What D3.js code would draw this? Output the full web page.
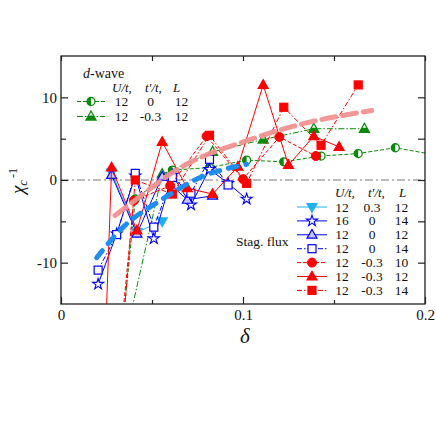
<!DOCTYPE html>
<html>
<head>
<meta charset="utf-8">
<script src="https://cdn.jsdelivr.net/npm/d3@7"></script>
<style>
  body { margin: 0; background: #fff; }
  svg text { font-family: "Liberation Serif", "Times New Roman", Times, "DejaVu Serif", serif; fill: #111; }
</style>
</head>
<body>
<div class="canvas"></div>
<script>
// tick labels
const xTickValues = [0, 0.1, 0.2];
const xTickLabels = ['0', '0.1', '0.2'];
const xMinorTicks = [0.05, 0.15];
const yTickValues = [-10, 0, 10];
const yTickLabels = ['-10', '0', '10'];
const yMinorTicks = [-5, 5];

// d-wave series  [delta, chi^-1]
const dwaveT0 = [[0.0204,-48],[0.0408,-2.3],[0.0612,1.2],[0.0816,1.5],[0.102,2.4],[0.1224,2.2],[0.1429,2.9],[0.1633,3.2],[0.1837,3.9],[0.204,3.1]];
const dwaveT03 = [[0.0278,-26.5],[0.0556,0.7],[0.0833,3.4],[0.1111,4.9],[0.1389,6.2],[0.1667,6.2]];

// staggered flux series
const fluxU12T03L12 = [[0.0278,0.9],[0.0417,-6.3],[0.0556,-5.0]];
const fluxU16T0L14 = [[0.0204,-12.6],[0.0306,-6.5],[0.0408,0.5],[0.051,-7.1],[0.0612,0.6],[0.0714,-3.0],[0.0816,1.3],[0.0918,-0.4],[0.102,-2.3]];
const fluxU12T0L12 = [[0.0278,0.6],[0.0417,-6.5],[0.0556,0.4],[0.0694,-2.4],[0.0833,-1.9]];
const fluxU12T0L14 = [[0.0204,-10.9],[0.0306,-6.6],[0.0408,0.8],[0.051,-5.7],[0.0612,0.3],[0.0714,-1.6],[0.0816,2.5],[0.0918,-0.6]];
const fluxU12Tm03L10 = [[0.02,-48],[0.04,-2.5],[0.06,-0.7],[0.08,5.3],[0.10,0.1],[0.12,5.2],[0.14,2.9]];
const fluxU12Tm03L12 = [[0.0139,-83],[0.0278,1.5],[0.0417,-6.1],[0.0556,4.6],[0.0694,-1.0],[0.0833,-1.7],[0.0972,1.6],[0.1111,11.5],[0.125,1.8],[0.1389,5.3],[0.1528,4.0]];
const fluxU12Tm03L14 = [[0.0306,-27],[0.0408,0.0],[0.0612,-1.7],[0.0816,5.4],[0.102,-0.4],[0.1224,8.8],[0.1429,4.2],[0.1633,11.5]];

// thick guide curves
const pinkGuide = [[0.0297,-4.3],[0.0452,-1.7],[0.0626,1.1],[0.0764,2.7],[0.0947,4.2],[0.131,6.7],[0.1707,8.4]];
const blueGuide = [[0.0196,-9.4],[0.0342,-5.7],[0.0544,-2.5],[0.0764,0.3],[0.102,1.9]];

// legend rows
const dwaveRows = [['12','0','12'], ['12','-0.3','12']];
const fluxRows = [['12','0.3','12'],['16','0','14'],['12','0','12'],['12','0','14'],['12','-0.3','10'],['12','-0.3','12'],['12','-0.3','14']];

const SERIF = '"Liberation Serif", "Times New Roman", Times, serif';
const GREEN = '#0a8a0a', BLUE = '#0000ff', RED = '#ff0000', CYAN = '#20b0f0';

const dwaveSeries = [
  {data: dwaveT0, color: GREEN, dash: '4,2', marker: 'halfcircle'},
  {data: dwaveT03, color: GREEN, dash: '6,2,1.5,2', marker: 'halftriangle'}
];
const fluxSeries = [
  {data: fluxU12T03L12, color: CYAN, dash: null, marker: 'downtriangle', fill: CYAN},
  {data: fluxU16T0L14, color: BLUE, dash: null, marker: 'star', fill: '#fff'},
  {data: fluxU12T0L12, color: BLUE, dash: null, marker: 'triangle', fill: '#c4c4ff'},
  {data: fluxU12T0L14, color: BLUE, dash: '5,2,1.5,2', marker: 'square', fill: '#fff'},
  {data: fluxU12Tm03L10, color: RED, dash: '4,2', marker: 'circle', fill: RED},
  {data: fluxU12Tm03L12, color: RED, dash: null, marker: 'triangle', fill: RED},
  {data: fluxU12Tm03L14, color: RED, dash: '5,2,1.5,2', marker: 'square', fill: RED}
];

const svg = d3.select('.canvas')
  .append('svg')
    .attr('width', 436)
    .attr('height', 440)
    .attr('font-family', SERIF);

const margin = {top: 56, left: 61};
const graphWidth = 364;
const graphHeight = 248;

const graph = svg.append('g')
  .attr('transform', `translate(${margin.left}, ${margin.top})`);

const x = d3.scaleLinear().domain([0, 0.2]).range([0, graphWidth]);
const y = d3.scaleLinear().domain([-15, 15]).range([graphHeight, 0]);

svg.append('defs').append('clipPath').attr('id', 'plotclip')
  .append('rect').attr('width', graphWidth).attr('height', graphHeight);

// zero line
graph.append('line')
  .attr('x1', 0).attr('x2', graphWidth)
  .attr('y1', y(0)).attr('y2', y(0))
  .attr('stroke', '#777').attr('stroke-width', 1)
  .attr('stroke-dasharray', '8,3,2,3');

// marker drawing
function drawMarker(g, type, color, fill) {
  if (type === 'halfcircle') {
    g.append('circle').attr('r', 4).attr('fill', '#fff').attr('stroke', color).attr('stroke-width', 1.3);
    g.append('path').attr('d', d3.arc()({innerRadius: 0, outerRadius: 4, startAngle: Math.PI, endAngle: 2 * Math.PI}))
      .attr('fill', color);
  } else if (type === 'halftriangle') {
    g.append('path').attr('d', 'M0,-5.5L5,3.5L-5,3.5Z').attr('fill', '#fff').attr('stroke', color).attr('stroke-width', 1.3);
    g.append('path').attr('d', 'M-2.5,-1L2.5,-1L5,3.5L-5,3.5Z').attr('fill', color);
  } else if (type === 'triangle') {
    g.append('path').attr('d', 'M0,-5.3L5,3.4L-5,3.4Z').attr('fill', fill).attr('stroke', color).attr('stroke-width', 1.2);
  } else if (type === 'downtriangle') {
    g.append('path').attr('d', 'M0,5.3L5,-3.4L-5,-3.4Z').attr('fill', fill).attr('stroke', color).attr('stroke-width', 1.2);
  } else if (type === 'square') {
    g.append('rect').attr('x', -4).attr('y', -4).attr('width', 8).attr('height', 8)
      .attr('fill', fill).attr('stroke', color).attr('stroke-width', 1.2);
  } else if (type === 'circle') {
    g.append('circle').attr('r', 4.5).attr('fill', fill).attr('stroke', color).attr('stroke-width', 1);
  } else if (type === 'star') {
    g.append('path').attr('d', d3.symbol(d3.symbolStar, 38)()).attr('fill', fill)
      .attr('stroke', color).attr('stroke-width', 1.1);
  }
}

const line = d3.line().x(d => x(d[0])).y(d => y(d[1]));
const plot = graph.append('g').attr('clip-path', 'url(#plotclip)');

function drawSeries(s) {
  plot.append('path')
    .attr('d', line(s.data))
    .attr('fill', 'none')
    .attr('stroke', s.color)
    .attr('stroke-width', 1)
    .attr('stroke-dasharray', s.dash);
  plot.selectAll(null)
    .data(s.data.filter(d => d[1] > -15 && d[1] < 15 && d[0] <= 0.2))
    .enter()
    .append('g')
      .attr('transform', d => `translate(${x(d[0])}, ${y(d[1])})`)
      .each(function() { drawMarker(d3.select(this), s.marker, s.color, s.fill); });
}

dwaveSeries.forEach(drawSeries);
fluxSeries.forEach(drawSeries);

// thick guide curves
const smooth = d3.line().x(d => x(d[0])).y(d => y(d[1])).curve(d3.curveMonotoneX);
plot.append('path').attr('d', smooth(pinkGuide))
  .attr('fill', 'none').attr('stroke', '#f29191').attr('stroke-width', 5)
  .attr('stroke-dasharray', '14,7').attr('stroke-linecap', 'round').attr('opacity', 0.95);
plot.append('path').attr('d', smooth(blueGuide))
  .attr('fill', 'none').attr('stroke', '#1e8ff0').attr('stroke-width', 5)
  .attr('stroke-dasharray', '9,9').attr('stroke-linecap', 'round');

// frame
graph.append('rect')
  .attr('width', graphWidth).attr('height', graphHeight)
  .attr('fill', 'none').attr('stroke', '#222').attr('stroke-width', 1.3);

// axes
function styleAxis(g) {
  g.attr('font-family', SERIF);
  g.select('.domain').remove();
  g.selectAll('line').attr('stroke', '#222').attr('stroke-width', 1.2);
  g.selectAll('text').style('font-family', SERIF).style('font-size', '15px').attr('fill', '#111');
}

graph.append('g').attr('transform', `translate(0, ${graphHeight})`)
  .call(d3.axisBottom(x).tickValues(xTickValues).tickFormat((d, i) => xTickLabels[i]).tickSize(-7).tickPadding(5))
  .call(styleAxis);
graph.append('g').attr('transform', `translate(0, ${graphHeight})`)
  .call(d3.axisBottom(x).tickValues(xMinorTicks).tickFormat('').tickSize(-4))
  .call(styleAxis);
graph.append('g')
  .call(d3.axisTop(x).tickValues(xTickValues.concat(xMinorTicks)).tickFormat('').tickSize(-5))
  .call(styleAxis);

graph.append('g')
  .call(d3.axisLeft(y).tickValues(yTickValues).tickFormat((d, i) => yTickLabels[i]).tickSize(-7).tickPadding(4))
  .call(styleAxis);
graph.append('g')
  .call(d3.axisLeft(y).tickValues(yMinorTicks).tickFormat('').tickSize(-5))
  .call(styleAxis);
graph.append('g').attr('transform', `translate(${graphWidth}, 0)`)
  .call(d3.axisRight(y).tickValues(yTickValues.concat(yMinorTicks)).tickFormat('').tickSize(-7))
  .call(styleAxis);

// axis titles
svg.append('text')
  .attr('x', 245).attr('y', 343)
  .attr('text-anchor', 'middle')
  .style('font-family', SERIF)
  .style('font-size', '21px').style('font-style', 'italic')
  .text('δ');

const yTitle = svg.append('text')
  .attr('transform', 'translate(24, 181) rotate(-90)')
  .attr('text-anchor', 'middle')
  .style('font-family', SERIF)
  .style('font-size', '19px');
yTitle.append('tspan').style('font-style', 'italic').text('χ');
yTitle.append('tspan').style('font-style', 'italic').style('font-size', '13px').attr('dy', 3).text('c');
yTitle.append('tspan').style('font-size', '12px').attr('dy', -10).attr('dx', 2).text('-1');

// legend helpers
function legendSample(g, s, x0, x1, yy) {
  g.append('line').attr('x1', x0).attr('x2', x1).attr('y1', yy).attr('y2', yy)
    .attr('stroke', s.color).attr('stroke-width', 1).attr('stroke-dasharray', s.dash);
  const m = g.append('g').attr('transform', `translate(${(x0 + x1) / 2}, ${yy})`);
  drawMarker(m, s.marker, s.color, s.fill);
}

function header(g, xs, yy) {
  const h = g.append('text').attr('y', yy).style('font-family', SERIF)
    .style('font-size', '13px').style('font-style', 'italic');
  h.append('tspan').attr('x', xs[0]).text('U/t,');
  h.append('tspan').attr('x', xs[1]).text("t'/t,");
  h.append('tspan').attr('x', xs[2]).text('L');
}

function cell(g, cx, yy, txt) {
  g.append('text').attr('x', cx).attr('y', yy).attr('text-anchor', 'middle')
    .style('font-family', SERIF).style('font-size', '13.5px').text(txt);
}

// d-wave legend
const legD = svg.append('g');
const dTitle = legD.append('text').attr('x', 83).attr('y', 78).style('font-family', SERIF).style('font-size', '14px');
dTitle.append('tspan').style('font-style', 'italic').text('d');
dTitle.append('tspan').text('-wave');
header(legD, [112, 145, 173], 92);
dwaveRows.forEach((row, i) => {
  const yy = 106 + i * 15;
  legendSample(legD, dwaveSeries[i], 77, 105, yy - 4.5);
  [121.5, 150.5, 181.5].forEach((cx, j) => cell(legD, cx, yy, row[j]));
});

// staggered flux legend
const legF = svg.append('g');
header(legF, [335, 368, 399], 197);
legF.append('text').attr('x', 236).attr('y', 246).style('font-family', SERIF)
  .style('font-size', '13.5px').text('Stag. flux');
fluxRows.forEach((row, i) => {
  const yy = 211.5 + i * 13.9;
  legendSample(legF, fluxSeries[i], 297, 327, yy - 4.5);
  [342, 372, 401.5].forEach((cx, j) => cell(legF, cx, yy, row[j]));
});
</script>
</body>
</html>
